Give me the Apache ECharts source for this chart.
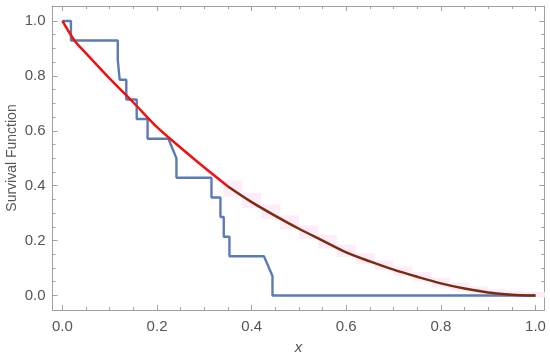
<!DOCTYPE html>
<html><head><meta charset="utf-8">
<script src="https://cdn.jsdelivr.net/npm/echarts@6/dist/echarts.min.js"></script>
<style>html,body{margin:0;padding:0;background:#fff}#c{width:550px;height:358px}</style>
</head><body><div id="c"></div>
<script>
// Kaplan-Meier style step estimate (polyline vertices)
const stepX = [0,0.018,0.018,0.117,0.117,0.121,0.121,0.135,0.135,0.157,0.157,0.18,0.18,0.224,0.241,0.241,0.315,0.315,0.334,0.334,0.341,0.341,0.353,0.353,0.426,0.444,0.444,1.0];
const stepY = [1,1,0.929,0.929,0.857,0.857,0.786,0.786,0.714,0.714,0.643,0.643,0.571,0.571,0.5,0.429,0.429,0.357,0.357,0.286,0.286,0.214,0.214,0.143,0.143,0.071,0,0];
// Smooth survival curve
const curveX = [0,0.025,0.05,0.1,0.15,0.2,0.25,0.3,0.35,0.4,0.45,0.5,0.55,0.6,0.65,0.7,0.75,0.8,0.85,0.9,0.95,1.0];
const curveY = [1.0,0.93,0.882,0.79,0.703,0.613,0.538,0.466,0.397,0.34,0.29,0.243,0.2,0.157,0.124,0.094,0.068,0.044,0.025,0.011,0.003,0];
const splitX = 0.35;
// Pale band around the curve
const bandX0 = [0.34,0.38,0.42,0.46,0.50,0.54,0.58,0.62,0.66,0.70,0.74,0.78,0.82,0.86,0.90,0.94,0.98];
const bandX1 = [0.38,0.42,0.46,0.50,0.54,0.58,0.62,0.66,0.70,0.74,0.78,0.82,0.86,0.90,0.94,0.98,1.02];
const bandHigh = [0.419,0.374,0.332,0.292,0.255,0.22,0.185,0.154,0.128,0.106,0.085,0.065,0.047,0.033,0.022,0.016,0.013];
const bandLow = [0.36,0.318,0.278,0.241,0.206,0.171,0.14,0.114,0.092,0.07,0.05,0.03,0.015,0.004,-0.004,-0.007,-0.007];
// ticks
const xMajor = [0,0.2,0.4,0.6,0.8,1.0];
const xMinor = [0.05,0.1,0.15,0.25,0.3,0.35,0.45,0.5,0.55,0.65,0.7,0.75,0.85,0.9,0.95];
const yMajor = [0,0.2,0.4,0.6,0.8,1.0];
const yMinor = [0.05,0.1,0.15,0.25,0.3,0.35,0.45,0.5,0.55,0.65,0.7,0.75,0.85,0.9,0.95];

const XMIN=-0.021, XMAX=1.0186, YMIN=-0.053, YMAX=1.0546;
const frame = '#a0a0a0';
const lbl = {color:'#555', fontSize:15, fontFamily:'Liberation Sans, Arial, sans-serif'};

function xa(pos, ticks, len, labels, line){
  return {type:'value', min:XMIN, max:XMAX, position:pos,
    axisLine:{show:line, onZero:false, lineStyle:{color:frame, width:1}},
    axisTick:{show:true, inside:true, length:len, customValues:ticks, lineStyle:{color:frame}},
    axisLabel: labels ? Object.assign({show:true, customValues:ticks, margin:9, formatter:v=>v.toFixed(1)}, lbl) : {show:false},
    splitLine:{show:false}};
}
function ya(pos, ticks, len, labels, line){
  return {type:'value', min:YMIN, max:YMAX, position:pos,
    axisLine:{show:line, onZero:false, lineStyle:{color:frame, width:1}},
    axisTick:{show:true, inside:true, length:len, customValues:ticks, lineStyle:{color:frame}},
    axisLabel: labels ? Object.assign({show:true, customValues:ticks, margin:7, formatter:v=>v.toFixed(1)}, lbl) : {show:false},
    splitLine:{show:false}};
}
const xAxes = [xa('bottom', xMajor, 5, true, true), xa('bottom', xMinor, 3, false, false),
               xa('top', xMajor, 5, false, true), xa('top', xMinor, 3, false, false)];
xAxes[0].name = 'x'; xAxes[0].nameLocation='middle'; xAxes[0].nameGap = 30; xAxes[0].nameMoveOverlap = false;
xAxes[0].nameTextStyle = {color:'#555', fontSize:15, fontStyle:'italic', fontFamily:'Liberation Sans, Arial, sans-serif'};
const yAxes = [ya('left', yMajor, 5, true, true), ya('left', yMinor, 3, false, false),
               ya('right', yMajor, 5, false, true), ya('right', yMinor, 3, false, false)];
yAxes[0].name = 'Survival Function'; yAxes[0].nameLocation='middle'; yAxes[0].nameGap = 33; yAxes[0].nameMoveOverlap = false;
yAxes[0].nameTextStyle = {color:'#555', fontSize:14, fontFamily:'Liberation Sans, Arial, sans-serif'};

const stepData = stepX.map((x,i)=>[x, stepY[i]]);
const redData = [], brownData = [];
curveX.forEach((x,i)=>{ if (x<=splitX) redData.push([x,curveY[i]]); if (x>=splitX) brownData.push([x,curveY[i]]); });
const bandData = bandX0.map((x,i)=>[x, bandX1[i], bandLow[i], bandHigh[i]]);

const chart = echarts.init(document.getElementById('c'), null, {renderer:'canvas'});
chart.setOption({
  animation:false,
  grid:{left:52.5, right:5.7, top:6, bottom:48, containLabel:false, outerBoundsMode:'none'},
  xAxis:xAxes, yAxis:yAxes,
  series:[
    {type:'custom', xAxisIndex:0, yAxisIndex:0, z:1, silent:true,
     renderItem:(params, api)=>{
       const p0 = api.coord([api.value(0), api.value(3)]);
       const p1 = api.coord([api.value(1), api.value(2)]);
       return {type:'rect', shape:{x:p0[0], y:p0[1], width:p1[0]-p0[0], height:p1[1]-p0[1]},
               style:{fill:'#feecf9'}};
     },
     encode:{x:[0,1], y:[2,3]}, data:bandData},
    {type:'line', xAxisIndex:0, yAxisIndex:0, z:3, data:stepData, showSymbol:false,
     lineStyle:{color:'#5b7bb4', width:2.4}},
    {type:'line', xAxisIndex:0, yAxisIndex:0, z:4, data:redData, showSymbol:false, smooth:0.3,
     lineStyle:{color:'#f01010', width:2.5}},
    {type:'line', xAxisIndex:0, yAxisIndex:0, z:4, data:brownData, showSymbol:false, smooth:0.3,
     lineStyle:{color:'#7a2c0c', width:2.5}}
  ]
});
</script></body></html>
